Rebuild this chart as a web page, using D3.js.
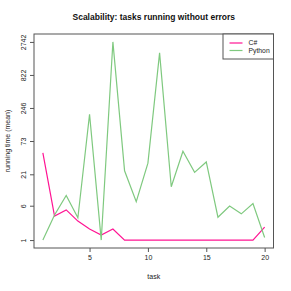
<!DOCTYPE html>
<html>
<head>
<meta charset="utf-8">
<script src="https://cdn.jsdelivr.net/npm/d3@7"></script>
<style>
  html, body { margin: 0; padding: 0; background: #fff; }
  svg { display: block; font-family: "Liberation Sans", Arial, sans-serif; }
</style>
</head>
<body>
<svg id="chart" width="291" height="291"></svg>
<script>
// tasks 1..20, mean running time per language
const tasks = d3.range(1, 21);
const csharp = [47, 3.8, 5, 3, 2, 1.4, 2, 1, 1, 1, 1, 1, 1, 1, 1, 1, 1, 1, 1, 2.2];
const python = [1, 4, 9.2, 3.5, 195, 1, 2742, 24, 7.1, 32, 1840, 13, 50, 22.6, 33.5, 3.6, 5.9, 4.2, 6.6, 1.2];
const yTicks = [1, 6, 21, 73, 246, 822, 2742];
const xTicks = [5, 10, 15, 20];
const series = [
  { name: 'C#', values: csharp, color: '#FF1493' },
  { name: 'Python', values: python, color: '#7FC97F' }
];

const svg = d3.select('#chart');
const mLeft = 34, mRight = 273.5, mTop = 34, mBottom = 248;

// R style 4% padding on both axes
const xPad = (20 - 1) * 0.04;
const x = d3.scaleLinear().domain([1 - xPad, 20 + xPad]).range([mLeft, mRight]);

// y is log(v + 1), padded by 4% in transformed space
const yPadPx = (mBottom - mTop) / 1.08 * 0.04;
const y = d3.scaleSymlog().constant(1).domain([1, 2742])
  .range([mBottom - yPadPx, mTop + yPadPx]);

// lines
const line = d3.line().x((d, i) => x(tasks[i])).y(d => y(d));
series.forEach(s => {
  svg.append('path')
    .attr('d', line(s.values))
    .attr('fill', 'none')
    .attr('stroke', s.color)
    .attr('stroke-width', 1.2);
});

// box
svg.append('rect')
  .attr('x', mLeft).attr('y', mTop)
  .attr('width', mRight - mLeft).attr('height', mBottom - mTop)
  .attr('fill', 'none').attr('stroke', '#555').attr('stroke-width', 1);

// x axis
const xAxis = d3.axisBottom(x).tickValues(xTicks).tickSize(4).tickPadding(3);
const gx = svg.append('g').attr('transform', `translate(0,${mBottom})`).call(xAxis);
gx.select('.domain').remove();
gx.selectAll('line').attr('stroke', '#555');
gx.selectAll('text').attr('font-size', 7).attr('fill', '#222').attr('font-family', 'Liberation Sans, Arial, sans-serif');

// y axis
const yAxis = d3.axisLeft(y).tickValues(yTicks).tickSize(4).tickFormat(d3.format('d'));
const gy = svg.append('g').attr('transform', `translate(${mLeft},0)`).call(yAxis);
gy.select('.domain').remove();
gy.selectAll('line').attr('stroke', '#555');
gy.selectAll('text')
  .attr('font-size', 7).attr('fill', '#222')
  .attr('font-family', 'Liberation Sans, Arial, sans-serif')
  .attr('text-anchor', 'middle')
  .attr('x', null).attr('dy', null)
  .attr('transform', 'translate(-8,0) rotate(-90)');

// title and labels
svg.append('text')
  .attr('x', (mLeft + mRight) / 2).attr('y', 20)
  .attr('text-anchor', 'middle').attr('font-size', 8.5).attr('font-weight', 'bold')
  .attr('fill', '#111')
  .text('Scalability: tasks running without errors');

svg.append('text')
  .attr('x', (mLeft + mRight) / 2).attr('y', 279)
  .attr('text-anchor', 'middle').attr('font-size', 7).attr('fill', '#222')
  .text('task');

svg.append('text')
  .attr('transform', `translate(10,${(mTop + mBottom) / 2}) rotate(-90)`)
  .attr('text-anchor', 'middle').attr('font-size', 7).attr('fill', '#222')
  .text('running time (mean)');

// legend
const lg = svg.append('g');
lg.append('rect')
  .attr('x', 223).attr('y', mTop).attr('width', mRight - 223).attr('height', 25)
  .attr('fill', '#fff').attr('stroke', '#555').attr('stroke-width', 1);
series.forEach((s, i) => {
  const ly = mTop + 9 + i * 7.5;
  lg.append('line')
    .attr('x1', 229.5).attr('x2', 242.5).attr('y1', ly).attr('y2', ly)
    .attr('stroke', s.color).attr('stroke-width', 1.2);
  lg.append('text')
    .attr('x', 248.5).attr('y', ly).attr('dy', '0.35em')
    .attr('font-size', 6.8).attr('fill', '#222')
    .text(s.name);
});
</script>
</body>
</html>
